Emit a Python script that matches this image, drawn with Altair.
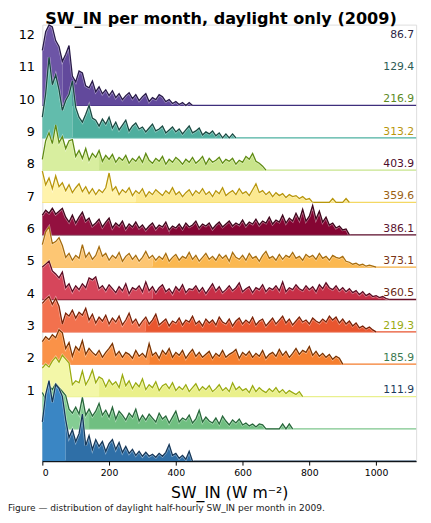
import altair as alt
import pandas as pd

# ---------------- data (10 W m-2 bins, relative frequency) ----------------
BIN = 10
months = list(range(1, 13))

jan = [40, 68, 82, 60, 78, 74, 66, 42, 24, 32, 20, 28, 48, 16, 26, 12, 22, 15, 20, 10, 18, 22, 12, 19, 9, 15, 8, 12, 6, 10,
       5, 9, 5, 7, 4, 8, 5, 9, 17, 6, 8, 3, 6, 2, 10, 0]
feb = [37, 30, 44, 40, 46, 42, 38, 34, 20, 16, 22, 15, 32, 14, 20, 13, 18, 26, 14, 19, 12, 22, 10, 18, 14, 9, 16, 12, 20, 8,
       14, 9, 15, 11, 7, 16, 10, 13, 6, 12, 18, 7, 11, 9, 14, 6, 10, 19, 7, 12, 8, 6, 11, 5, 13, 8, 4, 9, 6, 10,
       4, 6, 3, 5, 2, 5, 4, 0, 0, 0, 0, 0, 5, 0, 5, 0]
mar = [29, 33, 30, 36, 40, 35, 42, 38, 34, 12, 16, 14, 26, 12, 18, 27, 14, 20, 18, 10, 17, 12, 15, 9, 22, 11, 16, 8, 14, 10,
       18, 7, 12, 9, 15, 6, 11, 13, 8, 14, 6, 10, 7, 12, 5, 9, 13, 6, 10, 7, 11, 5, 8, 12, 6, 9, 5, 14, 7, 10,
       6, 8, 4, 11, 5, 9, 6, 4, 8, 5, 9, 4, 7, 3, 6, 4, 2, 5, 0]
apr = [23, 28, 25, 30, 27, 35, 32, 16, 22, 8, 18, 14, 24, 10, 16, 12, 9, 14, 7, 12, 16, 21, 9, 13, 7, 12, 10, 6, 14, 8,
       11, 7, 21, 9, 12, 6, 14, 10, 16, 7, 12, 9, 14, 6, 11, 15, 8, 12, 7, 10, 13, 6, 11, 8, 14, 7, 10, 12, 15, 6,
       12, 9, 13, 7, 11, 8, 14, 6, 10, 12, 8, 15, 9, 13, 7, 11, 16, 10, 14, 12, 18, 9, 13, 8, 11, 7, 10, 5, 8, 6, 0]
may = [29, 33, 36, 28, 34, 26, 8, 19, 16, 22, 14, 20, 17, 24, 12, 18, 9, 15, 11, 17, 8, 14, 10, 16, 7, 12, 19, 9, 13, 6,
       11, 15, 8, 12, 18, 7, 10, 13, 6, 11, 9, 14, 7, 12, 10, 16, 8, 11, 6, 13, 9, 12, 7, 15, 10, 8, 13, 6, 11, 14,
       8, 12, 9, 15, 7, 11, 13, 6, 10, 14, 8, 12, 16, 9, 13, 7, 11, 15, 10, 12, 8, 14, 11, 9, 13, 10, 16, 12, 15, 9,
       13, 8, 11, 6, 9, 4, 6, 3, 5, 2, 0]
jun = [33, 36, 39, 29, 26, 22, 28, 12, 16, 8, 14, 10, 16, 12, 22, 20, 23, 11, 14, 9, 15, 11, 7, 13, 9, 16, 6, 12, 10, 14,
       8, 18, 9, 13, 7, 12, 15, 8, 11, 6, 13, 9, 15, 7, 11, 10, 14, 8, 12, 6, 11, 16, 9, 13, 7, 10, 14, 9, 12, 17,
       8, 11, 13, 7, 12, 10, 15, 8, 12, 10, 14, 9, 18, 8, 12, 10, 15, 11, 9, 14, 10, 13, 8, 15, 11, 17, 12, 10, 14, 9,
       12, 8, 11, 7, 9, 5, 8, 4, 6, 3, 4, 2, 3, 1, 0]
jul = [23, 36, 41, 24, 26, 30, 22, 10, 14, 7, 12, 9, 23, 10, 15, 8, 12, 21, 11, 14, 7, 12, 9, 15, 6, 11, 14, 8, 12, 6,
       10, 16, 9, 12, 7, 11, 8, 14, 6, 10, 13, 7, 11, 9, 15, 8, 12, 6, 10, 14, 8, 11, 7, 13, 9, 12, 6, 15, 10, 8,
       12, 7, 14, 9, 11, 6, 12, 16, 9, 11, 7, 13, 8, 12, 10, 15, 9, 11, 7, 13, 10, 12, 8, 14, 9, 11, 7, 12, 10, 9,
       11, 6, 5, 3, 4, 2, 3, 1, 2, 1, 0]
aug = [20, 25, 22, 27, 21, 24, 27, 18, 13, 20, 12, 18, 23, 14, 17, 9, 12, 16, 8, 13, 17, 7, 12, 9, 14, 6, 11, 8, 13, 7,
       10, 5, 9, 12, 6, 10, 8, 13, 5, 9, 7, 11, 6, 12, 8, 10, 14, 7, 11, 9, 12, 6, 10, 13, 8, 11, 14, 9, 12, 10,
       15, 9, 13, 11, 16, 10, 14, 12, 18, 11, 15, 13, 20, 12, 17, 14, 22, 15, 26, 14, 19, 30, 16, 24, 13, 18, 10, 12, 7, 9,
       5, 6, 0]
sep = [32, 18, 25, 14, 27, 16, 20, 12, 18, 10, 15, 19, 11, 16, 9, 14, 8, 13, 10, 15, 30, 12, 16, 8, 13, 10, 15, 7, 12, 9,
       14, 6, 11, 8, 13, 10, 7, 12, 9, 15, 8, 11, 6, 10, 13, 7, 12, 9, 14, 8, 11, 6, 12, 9, 15, 7, 10, 12, 8, 14,
       9, 11, 7, 13, 19, 10, 12, 8, 11, 6, 10, 7, 9, 5, 8, 6, 7, 4, 6, 3, 4, 0, 0, 0, 0, 0, 0, 4, 0, 0,
       0, 4, 0]
oct_ = [11, 30, 38, 27, 46, 28, 34, 22, 30, 31, 14, 20, 12, 22, 10, 17, 13, 20, 9, 15, 11, 16, 8, 13, 10, 15, 7, 12, 9, 14,
        8, 17, 10, 7, 12, 9, 14, 6, 11, 8, 13, 10, 6, 11, 8, 13, 7, 10, 14, 6, 12, 8, 10, 13, 7, 11, 9, 12, 6, 10,
        8, 14, 11, 17, 9, 7, 4, 0]
nov = [21, 45, 82, 54, 64, 49, 28, 38, 44, 58, 31, 21, 16, 24, 33, 20, 18, 12, 19, 14, 21, 10, 16, 8, 13, 18, 7, 12, 15, 9,
       11, 6, 10, 14, 7, 9, 12, 5, 8, 11, 6, 9, 4, 8, 12, 5, 7, 10, 3, 6, 4, 7, 2, 5, 0, 4, 0, 4, 0]
dec = [56, 75, 82, 80, 66, 60, 45, 52, 61, 30, 24, 35, 33, 20, 18, 25, 14, 19, 12, 16, 10, 15, 8, 12, 6, 10, 13, 7, 11, 5,
       9, 12, 4, 8, 6, 11, 9, 4, 6, 2, 4, 1, 3, 0, 3, 0]

series = [jan, feb, mar, apr, may, jun, jul, aug, sep, oct_, nov, dec]
means = [111.9, 185.9, 219.3, 360.5, 373.1, 386.1, 359.6, 403.9, 313.2, 216.9, 129.4, 86.7]
medians = [70, 140, 170, 320, 310, 330, 330, 380, 280, 170, 90, 60]

TITLE = "SW_IN per month, daylight only (2009)"
CAPTION = "Figure — distribution of daylight half-hourly SW_IN per month in 2009."
XTITLE = "SW_IN (W m⁻²)"

# ---------------- styles ----------------
fills_lo = ['#3a86c4', '#84cd93', '#f3f7a8', '#fa9248', '#f2714e', '#d6465b',
            '#fdc673', '#93103f', '#fff3ab', '#d8ee9f', '#62bcac', '#6d55a6']
fills_hi = ['#2f6fa7', '#70bf81', '#eaf08a', '#f57f2f', '#e9562f', '#c72f47',
            '#fbb850', '#850533', '#fce990', '#c8e48a', '#4eae9e', '#62499c']
edges = ['#16385a', '#27673a', '#9aab10', '#7b3300', '#7a2207', '#5c0b22',
         '#a66d0f', '#3f061c', '#b8960b', '#5f8b13', '#1a4a42', '#281a48']
bases = ['#16385a', '#7cc68b', '#e9f08e', '#f47c2c', '#e8532f', '#6a1028',
         '#f5b043', '#5a0a28', '#f4d863', '#c7e48c', '#4db1a1', '#3e2e7c']
tcols = ['#1b3a5b', '#3b7a50', '#9aab10', '#6b2b16', '#7a3516', '#5b1531',
         '#9a5f13', '#4b0b2b', '#b8960b', '#5b8a1f', '#2d5b55', '#2b2545']

ROW = 32.9      # height units per ridge row
XMAX = 1120
LABEL_SHIFT = 1.19
FONT = "DejaVu Sans"

rows = []
for m, arr in zip(months, series):
    for i, c in enumerate(arr):
        rows.append({"month": m, "x": i * BIN, "count": c, "base": m - 1, "y": (m - 1) + c / ROW})
df = pd.DataFrame(rows)

rules_df = pd.DataFrame({"month": months, "start": 0, "end": XMAX, "base": [m - 1 for m in months]})
text_df = pd.DataFrame({"month": months, "mean": means,
                        "label": [f"{v:.1f}" for v in means],
                        "pos": [m + LABEL_SHIFT for m in months],
                        "tc": tcols})

xscale = alt.Scale(domain=[0, XMAX], nice=False, zero=False)
yscale = alt.Scale(domain=[0, 13.5], nice=False, zero=False)
xaxis = alt.Axis(values=[0, 200, 400, 600, 800, 1000], format="d", grid=False, domainColor="black",
                 tickColor="black", tickSize=4, labelFontSize=9.5, labelColor="black",
                 labelFont=FONT, title=XTITLE, titleFont=FONT, titleFontSize=16,
                 titleFontWeight="normal", titleColor="black", titlePadding=8, zindex=1, labelPadding=3)
yaxis = alt.Axis(values=[m + LABEL_SHIFT for m in months],
                 labelExpr=f"format(round(datum.value - {LABEL_SHIFT}), 'd')",
                 grid=False, domain=False, ticks=False, labelFontSize=13, labelColor="black",
                 labelFont=FONT, labelPadding=8, title=None)


def X(f):
    return alt.X(f + ":Q", scale=xscale, axis=xaxis, title=XTITLE)


def Y(f):
    return alt.Y(f + ":Q", scale=yscale, axis=yaxis, title=None)


layers = []
for idx in reversed(range(12)):
    m = months[idx]
    d = df[df.month == m]
    med = medians[idx]
    r = rules_df[rules_df.month == m]
    layers.append(alt.Chart(r).mark_rule(color=bases[idx], strokeWidth=1.3).encode(
        x=X("start"), x2="end", y=Y("base")))
    layers.append(alt.Chart(d[d.x <= med]).mark_area(color=fills_lo[idx], opacity=1, interpolate="linear").encode(
        x=X("x"), y=Y("y"), y2="base"))
    layers.append(alt.Chart(d[d.x >= med]).mark_area(color=fills_hi[idx], opacity=1, interpolate="linear").encode(
        x=X("x"), y=Y("y"), y2="base"))
    layers.append(alt.Chart(d).mark_line(color="white", strokeWidth=2.6, opacity=0.45,
                                         interpolate="linear").encode(x=X("x"), y=Y("y")))
    layers.append(alt.Chart(d).mark_line(color=edges[idx], strokeWidth=1.3,
                                         interpolate="linear").encode(x=X("x"), y=Y("y")))

texts = alt.Chart(text_df).mark_text(align="right", baseline="middle", fontSize=11, font=FONT, dx=-2).encode(
    x=alt.X(datum=XMAX, scale=xscale, axis=xaxis),
    y=Y("pos"),
    text="label:N",
    color=alt.Color("tc:N", scale=None),
)
layers.append(texts)

caption = alt.Chart(pd.DataFrame({"t": [CAPTION]})).mark_text(
    align="left", baseline="middle", fontSize=9.2, font=FONT, color="#222222").encode(
    x=alt.value(-35), y=alt.value(493), text="t:N")
layers.append(caption)

title = alt.Chart(pd.DataFrame({"t": [TITLE]})).mark_text(
    align="left", baseline="alphabetic", fontSize=16.4, font=FONT, fontWeight="bold", color="black").encode(
    x=alt.value(3), y=alt.value(-1), text="t:N")
layers.append(title)

chart = alt.layer(*layers).properties(
    width=381, height=445,
    autosize=alt.AutoSizeParams(type="none"),
    padding={"left": 35, "top": 12, "right": 7, "bottom": 55},
).configure_view(stroke=None).configure(background="white")

chart.save("out.html", embed_options={"renderer": "svg", "actions": False})
